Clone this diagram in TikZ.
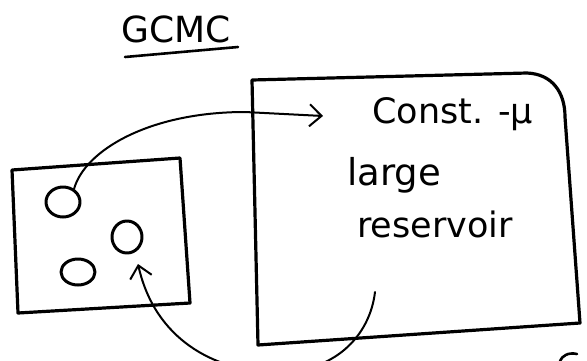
\documentclass[tikz,border=0pt]{standalone}
\usepackage{fontspec}
\setmainfont{DejaVu Sans}
\usetikzlibrary{shapes.geometric,arrows.meta}
\begin{document}
\begin{tikzpicture}[x=1pt,y=-1pt,line cap=round,line join=round,
  boxline/.style={line width=3.2pt},
  ringline/.style={draw,ellipse,line width=3pt,inner sep=0pt},
  arrowline/.style={line width=2pt},
  handtip/.style={-{Straight Barb[length=12pt,width=22pt,line width=2pt]}},
  lbl/.style={font=\fontsize{35}{40}\selectfont,anchor=base west,inner sep=0pt}]
\useasboundingbox (0,0) rectangle (587,360);
% title
\node[lbl,font=\fontsize{36}{40}\selectfont] (title) at (121,42) {GCMC};
\draw[boxline,line width=2.6pt] (125,57) -- (238,47);
% small box
\draw[boxline] (12,170) -- (180,158) -- (190,303) -- (18,313) -- cycle;
% particles
\node[ringline,minimum width=34pt,minimum height=30pt] (c1) at (63,202) {};
\node[ringline,minimum width=30pt,minimum height=32pt] (c2) at (127,237) {};
\node[ringline,minimum width=34pt,minimum height=26pt] (c3) at (78,272) {};
% big reservoir box
\draw[boxline] (252,80) -- (527,73) .. controls (552,74) and (565,92) .. (565,117)
  -- (580,323) -- (258,345) -- cycle;
% labels
\node[lbl] (mu) at (372,123) {Const. -μ};
\node[lbl,font=\fontsize{37}{40}\selectfont] (large) at (347,185) {large};
\node[lbl] (res) at (357,237) {reservoir};
% connectors
\coordinate (t1) at (323,116);
\coordinate (s2) at (375,292);
\coordinate (t2) at (138,264);
\draw[arrowline,handtip] (c1.50) .. controls (85,150) and (150,112) .. (245,112) -- (t1);
\draw[arrowline,handtip] (s2) .. controls (370,335) and (335,375) .. (270,372)
  .. controls (215,370) and (155,340) .. (t2);
% partial letter at bottom right
\draw[boxline,line width=2.6pt] (577,354) .. controls (568,352) and (562,356) .. (560,361);
\end{tikzpicture}
\end{document}
